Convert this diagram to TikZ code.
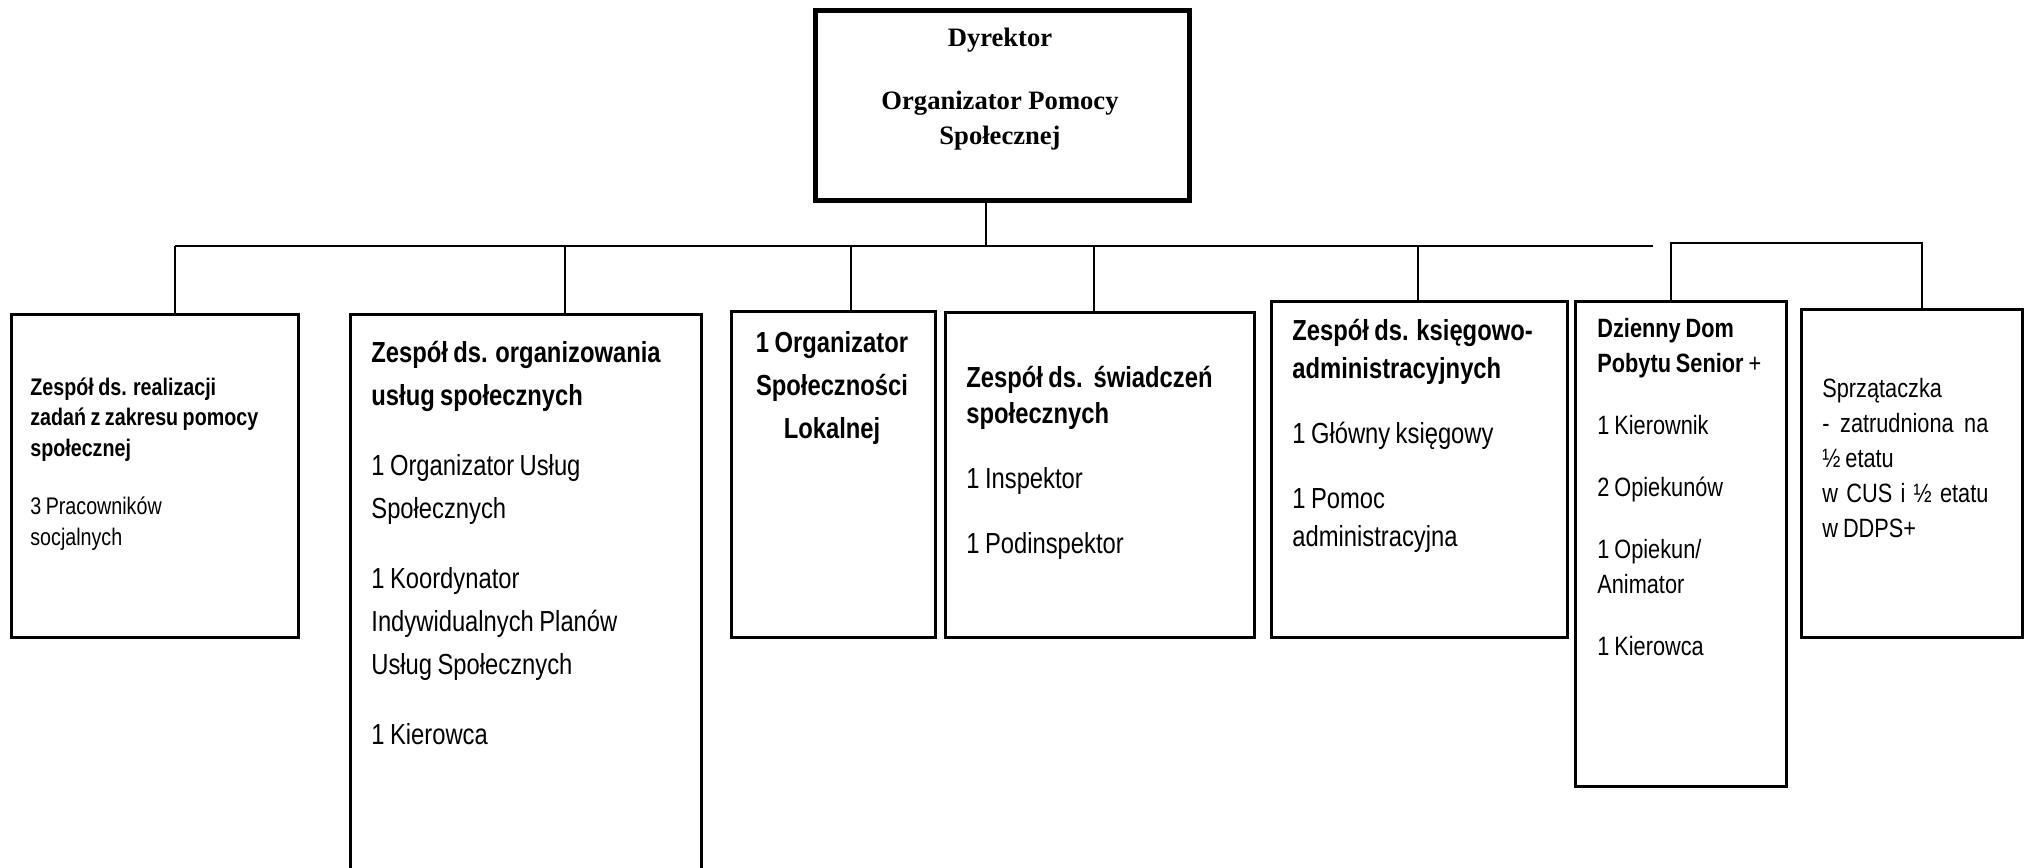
\documentclass[tikz,border=0pt]{standalone}
\usepackage{fontspec}
\setmainfont{Liberation Sans}
\newfontfamily\narrowfont{Liberation Sans}[FakeStretch=0.82,WordSpace=0.82]
\newfontfamily\headfont{Liberation Serif}

\begin{document}
\begin{tikzpicture}[x=0.5pt,y=-0.5pt,
  every node/.style={inner sep=0pt},
  unit/.style={draw,rectangle,line width=1.3pt,anchor=north west},
  boss/.style={unit,line width=2.4pt},
  txt/.style={anchor=base west,align=flush left,text width=#1},
  link/.style={line width=1.2pt}]
\useasboundingbox (0,0) rectangle (2031,868);
\clip (0,0) rectangle (2031,868);

\node [boss,minimum width=187pt,minimum height=95pt] (dyr) at (813,8) {};
\node [unit,minimum width=143.5pt,minimum height=161.5pt] (pomoc) at (10,313) {};
\node [unit,minimum width=175.5pt,minimum height=300pt] (uslugi) at (349,313) {};
\node [unit,minimum width=102pt,minimum height=163pt] (lokal) at (730,310) {};
\node [unit,minimum width=154.5pt,minimum height=162.5pt] (swiad) at (944,311) {};
\node [unit,minimum width=148pt,minimum height=168pt] (ksieg) at (1270,300) {};
\node [unit,minimum width=105.5pt,minimum height=242.5pt] (senior) at (1574,300) {};
\node [unit,minimum width=110.5pt,minimum height=164pt] (sprz) at (1800,308) {};

\node [anchor=base,align=flush center,text width=170pt,font=\headfont\bfseries\fontsize{13.3}{17.5}\selectfont] (dyr-t) at (1000,46)
  {Dyrektor\\[14pt] Organizator Pomocy\\ Społecznej};
\node [txt=135pt,font=\narrowfont\fontsize{12}{15.25}\selectfont] (pomoc-t) at (30,395)
  {\bfseries Zespół ds. realizacji\\ zadań z zakresu pomocy\\ społecznej\\[14pt]\mdseries 3 Pracowników\\ socjalnych};
\node [txt=165pt,font=\narrowfont\fontsize{14.5}{21.5}\selectfont] (uslugi-t) at (371,362)
  {\bfseries Zespół ds. organizowania\\ usług społecznych\\[13.5pt]\mdseries 1 Organizator Usług\\ Społecznych\\[13.5pt] 1 Koordynator\\ Indywidualnych Planów\\ Usług Społecznych\\[13.5pt] 1 Kierowca};
\node [anchor=base,align=flush center,text width=100pt,font=\narrowfont\bfseries\fontsize{14.5}{21.5}\selectfont] (lokal-t) at (832,352)
  {1 Organizator\\ Społeczności\\ Lokalnej};
\node [txt=145pt,font=\narrowfont\fontsize{14.5}{18}\selectfont] (swiad-t) at (966,387)
  {\bfseries Zespół ds.\ \ świadczeń\\ społecznych\\[14.5pt]\mdseries 1 Inspektor\\[14.5pt] 1 Podinspektor};
\node [txt=140pt,font=\narrowfont\fontsize{14.5}{19}\selectfont] (ksieg-t) at (1292,340)
  {\bfseries Zespół ds. księgowo-\\ administracyjnych\\[13.5pt]\mdseries 1 Główny księgowy\\[13.5pt] 1 Pomoc\\ administracyjna};
\node [txt=95pt,font=\narrowfont\fontsize{13.25}{17.5}\selectfont] (senior-t) at (1597,337)
  {\bfseries Dzienny Dom\\ Pobytu Senior \mdseries+\\[13.5pt] 1 Kierownik\\[13.5pt] 2 Opiekunów\\[13.5pt] 1 Opiekun/\\ Animator\\[13.5pt] 1 Kierowca};
\node [txt=100pt,font=\narrowfont\fontsize{13.25}{17.5}\selectfont] (sprz-t) at (1822,397)
  {Sprzątaczka\\ \makebox[83pt][s]{- zatrudniona na}\\ ½ etatu\\ \makebox[83pt][s]{w CUS i ½ etatu}\\ w DDPS+};

\coordinate (hub) at (986,246);
\coordinate (lineL) at (175,246);
\coordinate (lineR) at (1653,246);
\coordinate (d2) at (565,246);
\coordinate (d3) at (851,246);
\coordinate (d4) at (1094,246);
\coordinate (d5) at (1418,246);
\coordinate (b6) at (1671,243);
\coordinate (b7) at (1922,243);

\draw [link] (lineL) -- (lineR);
\draw [link] (hub |- dyr.south) -- (hub);
\foreach \d/\b in {lineL/pomoc,d2/uslugi,d3/lokal,d4/swiad,d5/ksieg}
  \draw [link] (\d) -- (\d |- \b.north);
\draw [link] (b6 |- senior.north) -- (b6) -- (b7) -- (b7 |- sprz.north);
\end{tikzpicture}
\end{document}
